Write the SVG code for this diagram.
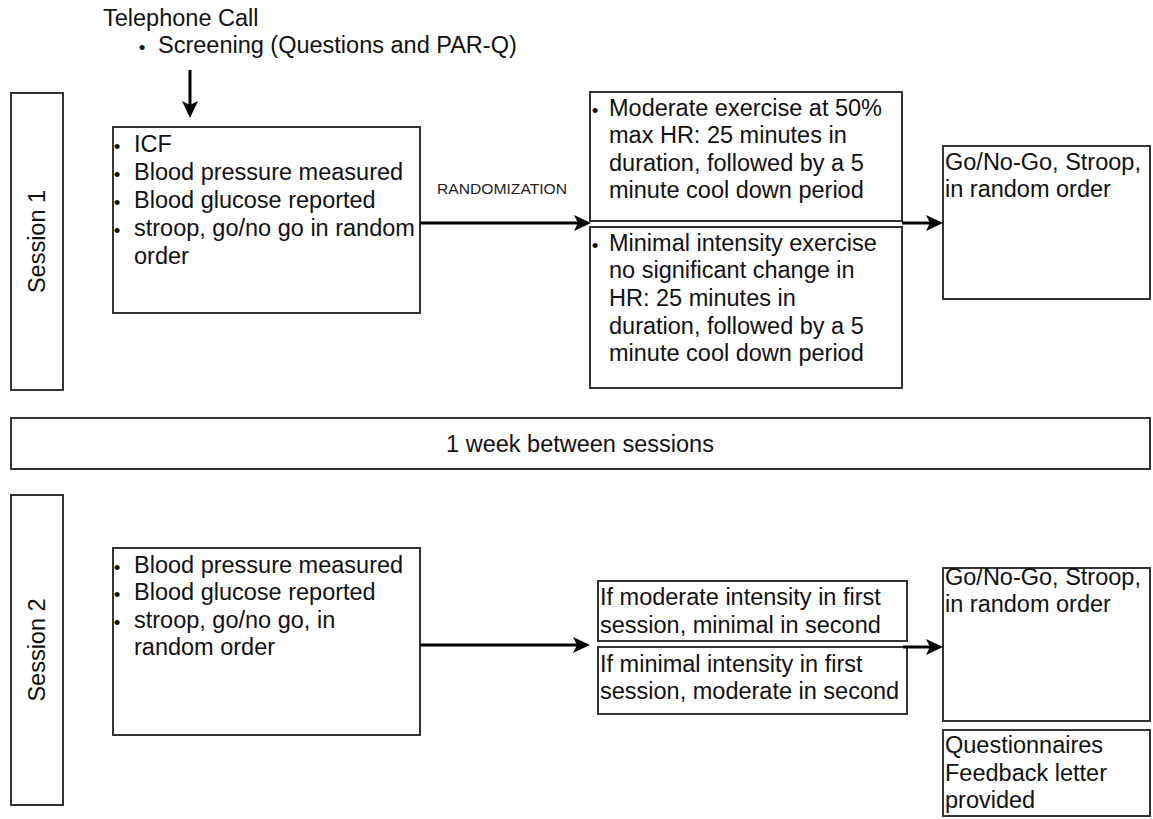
<svg xmlns="http://www.w3.org/2000/svg" width="1153" height="819" viewBox="0 0 1153 819">
<defs>
<style>
.box{fill:#fff;stroke:#333;stroke-width:2}
.t{font-family:"Liberation Sans",Arial,sans-serif;font-size:23.5px;fill:#111}
.b{font-family:"Liberation Sans",Arial,sans-serif;font-size:19px;fill:#111;text-anchor:middle}
.sm{font-family:"Liberation Sans",Arial,sans-serif;font-size:14px;fill:#222}
.c{text-anchor:middle}
.conn{stroke:#000;stroke-width:3;fill:none;marker-end:url(#arr)}
</style>
<marker id="arr" markerWidth="20" markerHeight="18" refX="8" refY="8" orient="auto" markerUnits="userSpaceOnUse">
<path d="M0,0 L17,8 L0,16 L4,8 z" fill="#000"/>
</marker>
</defs>
<rect width="1153" height="819" fill="#fff"/>

<g id="telephone">
<text class="t" x="103" y="26">Telephone Call</text>
<text class="b" x="142" y="54">•</text>
<text class="t" x="158" y="53">Screening (Questions and PAR-Q)</text>
</g>

<g id="session1">
<rect class="box" x="11" y="93" width="52" height="297"/>
<text class="t c" transform="translate(45,241.5) rotate(-90)" x="0" y="0">Session 1</text>
</g>

<g id="s1-baseline">
<rect class="box" x="113" y="127" width="307" height="186"/>
<text class="b" x="117" y="153">•</text><text class="t" x="134" y="152">ICF</text>
<text class="b" x="117" y="181">•</text><text class="t" x="134" y="180">Blood pressure measured</text>
<text class="b" x="117" y="209">•</text><text class="t" x="134" y="208">Blood glucose reported</text>
<text class="b" x="117" y="237">•</text><text class="t" x="134" y="236">stroop, go/no go in random</text>
<text class="t" x="134" y="264">order</text>
</g>

<g id="randomization-label">
<text class="sm" x="437" y="194" textLength="130" lengthAdjust="spacingAndGlyphs">RANDOMIZATION</text>
</g>

<g id="s1-moderate">
<rect class="box" x="590" y="92" width="312" height="129"/>
<text class="b" x="595" y="117">•</text>
<text class="t" x="609" y="116">Moderate exercise at 50%</text>
<text class="t" x="609" y="143">max HR: 25 minutes in</text>
<text class="t" x="609" y="171">duration, followed by a 5</text>
<text class="t" x="609" y="198">minute cool down period</text>
</g>

<g id="s1-minimal">
<rect class="box" x="590" y="227" width="312" height="161"/>
<text class="b" x="595" y="252">•</text>
<text class="t" x="609" y="251">Minimal intensity exercise</text>
<text class="t" x="609" y="278">no significant change in</text>
<text class="t" x="609" y="306">HR: 25 minutes in</text>
<text class="t" x="609" y="334">duration, followed by a 5</text>
<text class="t" x="609" y="361">minute cool down period</text>
</g>

<g id="s1-tasks">
<rect class="box" x="943" y="146" width="207" height="153"/>
<text class="t" x="945" y="170">Go/No-Go, Stroop,</text>
<text class="t" x="945" y="197">in random order</text>
</g>

<g id="week">
<rect class="box" x="11" y="418" width="1139" height="51"/>
<text class="t c" x="580" y="452">1 week between sessions</text>
</g>

<g id="session2">
<rect class="box" x="11" y="495" width="52" height="310"/>
<text class="t c" transform="translate(45,650) rotate(-90)" x="0" y="0">Session 2</text>
</g>

<g id="s2-baseline">
<rect class="box" x="113" y="548" width="307" height="187"/>
<text class="b" x="117" y="574">•</text><text class="t" x="134" y="573">Blood pressure measured</text>
<text class="b" x="117" y="601">•</text><text class="t" x="134" y="600">Blood glucose reported</text>
<text class="b" x="117" y="629">•</text><text class="t" x="134" y="628">stroop, go/no go, in</text>
<text class="t" x="134" y="655">random order</text>
</g>

<g id="s2-moderate-first">
<rect class="box" x="598" y="581" width="309" height="60"/>
<text class="t" x="600" y="605">If moderate intensity in first</text>
<text class="t" x="600" y="633">session, minimal in second</text>
</g>

<g id="s2-minimal-first">
<rect class="box" x="598" y="647" width="309" height="67"/>
<text class="t" x="600" y="672">If minimal intensity in first</text>
<text class="t" x="600" y="699">session, moderate in second</text>
</g>

<g id="s2-tasks">
<rect class="box" x="943" y="568" width="207" height="153"/>
<text class="t" x="945" y="585">Go/No-Go, Stroop,</text>
<text class="t" x="945" y="612">in random order</text>
</g>

<g id="s2-final">
<rect class="box" x="943" y="730" width="207" height="86"/>
<text class="t" x="945" y="753">Questionnaires</text>
<text class="t" x="945" y="781">Feedback letter</text>
<text class="t" x="945" y="808">provided</text>
</g>

<g id="connectors">
<line class="conn" x1="190" y1="70" x2="190" y2="109"/>
<line class="conn" x1="420" y1="223" x2="582" y2="223"/>
<line class="conn" x1="902" y1="223" x2="934" y2="223"/>
<line class="conn" x1="420" y1="645" x2="581" y2="645"/>
<line class="conn" x1="903" y1="647" x2="934" y2="647"/>
</g>
</svg>
